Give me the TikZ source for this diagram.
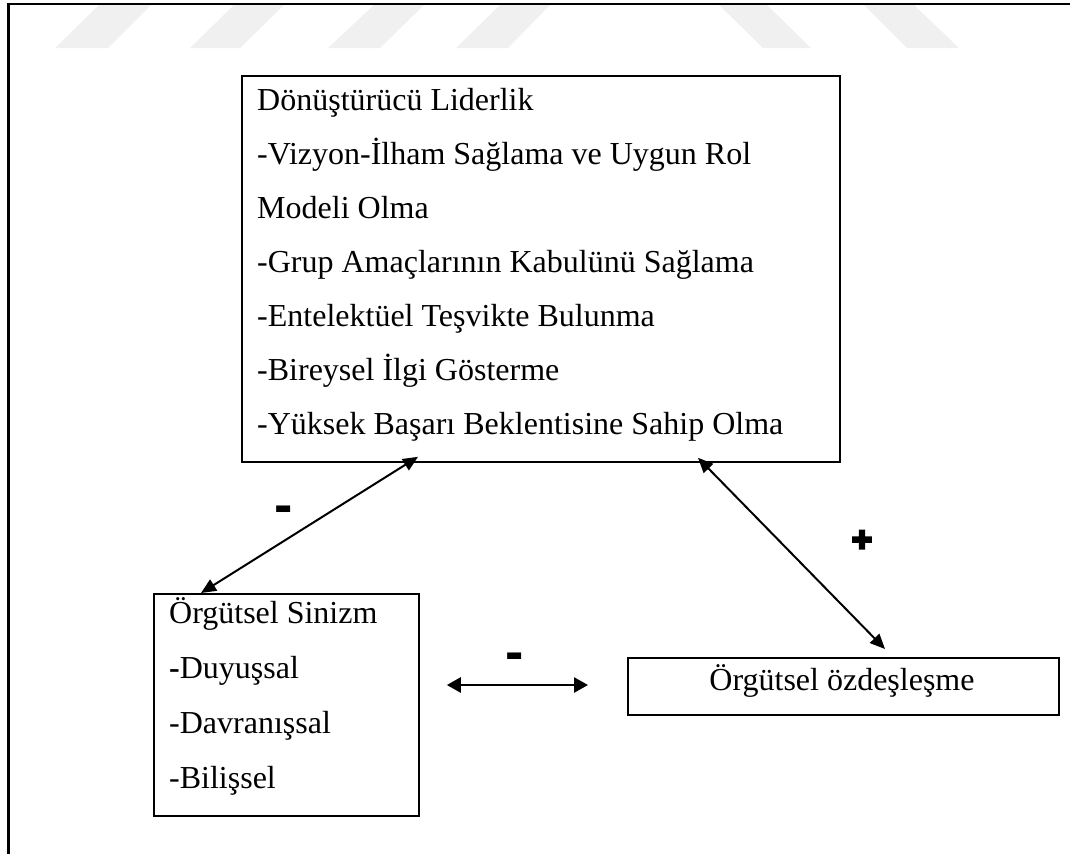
\documentclass[tikz,border=0pt]{standalone}
\usepackage{fontspec}
\setmainfont{Liberation Serif}
\newfontfamily\signfont{Liberation Sans}
\newfontfamily\heavysign{Liberation Sans}[FakeBold=8]
\usetikzlibrary{arrows.meta}
\begin{document}
\begin{tikzpicture}[x=1pt,y=-1pt,
  box/.style={draw, line width=1.8pt, inner sep=0pt, anchor=north west},
  txtline/.style={anchor=base west, inner sep=0pt, font=\fontsize{32}{38}\selectfont},
  ctext/.style={anchor=base, inner sep=0pt, font=\fontsize{32}{38}\selectfont},
  sign/.style={anchor=base, inner sep=0pt},
  link/.style={line width=2pt, {Triangle[length=15pt,width=13pt]}-{Triangle[length=15pt,width=13pt]}},
  hlink/.style={line width=2.6pt, {Triangle[length=14pt,width=15pt]}-{Triangle[length=14pt,width=15pt]}},
  wm/.style={fill=black!6, draw=none}]
\useasboundingbox (0,0) rectangle (1070,854);

% faint band marks along the top edge
\fill[wm] (55,48) -- (108,48) -- (152,4) -- (100,4) -- cycle;
\fill[wm] (190,48) -- (240,48) -- (285,4) -- (235,4) -- cycle;
\fill[wm] (328,48) -- (380,48) -- (425,4) -- (375,4) -- cycle;
\fill[wm] (456,48) -- (508,48) -- (551,4) -- (501,4) -- cycle;
\fill[wm] (718,4) -- (766,4) -- (811,48) -- (763,48) -- cycle;
\fill[wm] (863,4) -- (913,4) -- (959,48) -- (907,48) -- cycle;

% page frame (top and left edges)
\draw[line width=2.5pt] (1070,4) -- (8.5,4) -- (8.5,854);

% transformational leadership box
\node[box, minimum width=598pt, minimum height=386pt] (lead) at (241,75) {};
\node[txtline] (l1) at (257,110) {Dönüştürücü Liderlik};
\node[txtline] (l2) at (257,164) {-Vizyon-İlham Sağlama ve Uygun Rol};
\node[txtline] (l3) at (257,218) {Modeli Olma};
\node[txtline] (l4) at (257,272) {-Grup Amaçlarının Kabulünü Sağlama};
\node[txtline] (l5) at (257,326) {-Entelektüel Teşvikte Bulunma};
\node[txtline] (l6) at (257,380) {-Bireysel İlgi Gösterme};
\node[txtline] (l7) at (257,434) {-Yüksek Başarı Beklentisine Sahip Olma};

% organizational cynicism box
\node[box, minimum width=265pt, minimum height=222pt] (sinizm) at (153,593) {};
\node[txtline] (c1) at (169,623) {Örgütsel Sinizm};
\node[txtline] (c2) at (169,678) {{\bfseries -}Duyuşsal};
\node[txtline] (c3) at (169,733) {-Davranışsal};
\node[txtline] (c4) at (169,788) {-Bilişsel};

% organizational identification box
\node[box, minimum width=431pt, minimum height=57pt] (ident) at (627,657) {};
\node[ctext] (i1) at (842,690) {Örgütsel özdeşleşme};

% relations
\draw[link] ([xshift=48pt]sinizm.north west) -- ([xshift=177pt,yshift=6pt]lead.south west);
\draw[link] ([xshift=457pt,yshift=5pt]lead.south west) -- ([xshift=258pt,yshift=8pt]ident.north west);
\draw[hlink] ([xshift=27pt,yshift=-92pt]sinizm.north east) -- ([xshift=-39pt,yshift=-28pt]ident.north west);

% relation signs
\node[sign, font=\signfont\bfseries\fontsize{55}{60}\selectfont] (s1) at (284,523) {-};
\node[sign, font=\signfont\bfseries\fontsize{55}{60}\selectfont] (s2) at (515,670) {-};
\node[sign, font=\heavysign\bfseries\fontsize{34}{40}\selectfont] (s3) at (862,551) {+};
\end{tikzpicture}
\end{document}
